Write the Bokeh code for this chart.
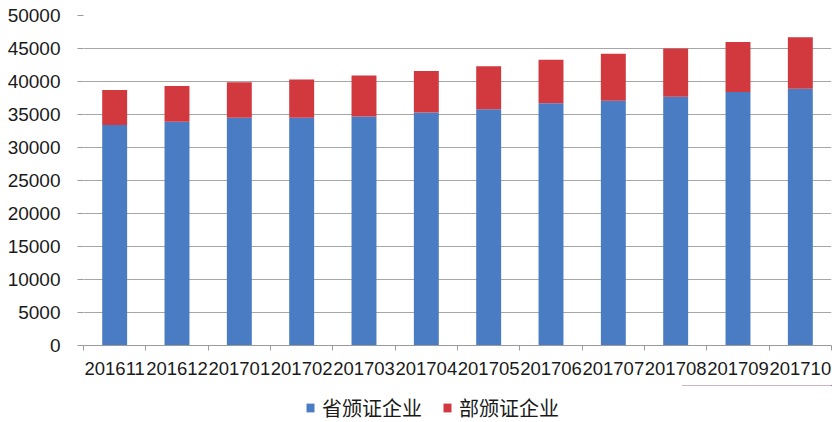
from bokeh.plotting import figure
from bokeh.layouts import column
from bokeh.models import (ColumnDataSource, FixedTicker, Legend, LegendItem,
                          NumeralTickFormatter, Range1d)
from bokeh.embed import file_html
from bokeh.resources import INLINE

months = ["201611", "201612", "201701", "201702", "201703", "201704",
          "201705", "201706", "201707", "201708", "201709", "201710"]
provincial = [33400, 33900, 34500, 34500, 34700, 35300,
              35800, 36700, 37100, 37700, 38400, 38900]
ministerial = [5300, 5400, 5400, 5800, 6200, 6300,
               6500, 6600, 7100, 7300, 7600, 7800]
series_names = ["省颁证企业", "部颁证企业"]
series_colors = ["#4A7CC4", "#D2393F"]
y_ticks = [0, 5000, 10000, 15000, 20000, 25000, 30000, 35000, 40000, 45000, 50000]

xs = list(range(1, len(months) + 1))
source = ColumnDataSource(dict(x=xs, month=months, prov=provincial, mini=ministerial))

p = figure(output_backend="svg", toolbar_location=None,
           width=836, height=385,
           x_range=Range1d(0.5, len(months) + 0.5),
           y_range=Range1d(0, 50000),
           min_border_left=83, min_border_top=15, min_border_right=5,
           min_border_bottom=40)
p.outline_line_color = None

renderers = p.vbar_stack(["prov", "mini"], x="x", width=0.4, source=source,
                         color=series_colors, line_width=0)

# x axis
p.xaxis.ticker = FixedTicker(ticks=xs, minor_ticks=[x - 0.5 for x in xs] + [xs[-1] + 0.5])
p.xaxis.major_label_overrides = {x: m for x, m in zip(xs, months)}
p.xaxis.major_tick_line_color = None
p.xaxis.major_tick_out = 6
p.xaxis.minor_tick_in = 0
p.xaxis.minor_tick_out = 5
p.xaxis.minor_tick_line_color = "#9a9a9a"
p.xaxis.axis_line_color = "#9a9a9a"
p.xaxis.major_label_text_font = "Liberation Sans"
p.xaxis.major_label_text_font_size = "18.5px"
p.xaxis.major_label_text_color = "#1a1a1a"
p.xaxis.major_label_standoff = 10
p.xgrid.grid_line_color = None

# y axis
p.yaxis.ticker = FixedTicker(ticks=y_ticks)
p.yaxis.formatter = NumeralTickFormatter(format="0")
p.yaxis.axis_line_color = None
p.yaxis.major_tick_in = 0
p.yaxis.major_tick_out = 6
p.yaxis.major_tick_line_color = "#9a9a9a"
p.yaxis.minor_tick_line_color = None
p.yaxis.major_label_text_font = "Liberation Sans"
p.yaxis.major_label_text_font_size = "19px"
p.yaxis.major_label_text_color = "#1a1a1a"
p.yaxis.major_label_standoff = 17
p.ygrid.grid_line_color = "#a6a6a6"
p.ygrid.grid_line_width = 1.2

# legend strip below the chart (its key bars lie outside its own view)
lf = figure(output_backend="svg", toolbar_location=None,
            width=836, height=37, x_range=Range1d(0, 1), y_range=Range1d(-2, -1),
            x_axis_type=None, y_axis_type=None,
            min_border_left=0, min_border_right=0, min_border_top=0, min_border_bottom=0)
lf.outline_line_color = None
lf.xgrid.grid_line_color = None
lf.ygrid.grid_line_color = None
key_renderers = lf.vbar_stack(["prov", "mini"], x="x", width=0.4, source=source,
                              color=series_colors, line_width=0)

legend = Legend(items=[LegendItem(label=n, renderers=[r]) for n, r in zip(series_names, key_renderers)],
                orientation="horizontal", location=(222, 0),
                glyph_width=10, glyph_height=11, label_standoff=7, spacing=20,
                label_text_font="Noto Sans CJK SC", label_text_font_size="20px",
                label_text_color="#1a1a1a", border_line_color=None,
                background_fill_alpha=0, padding=0, margin=0)
lf.add_layout(legend, "center")

open("out.html", "w").write(file_html(column(p, lf, spacing=0), INLINE))
